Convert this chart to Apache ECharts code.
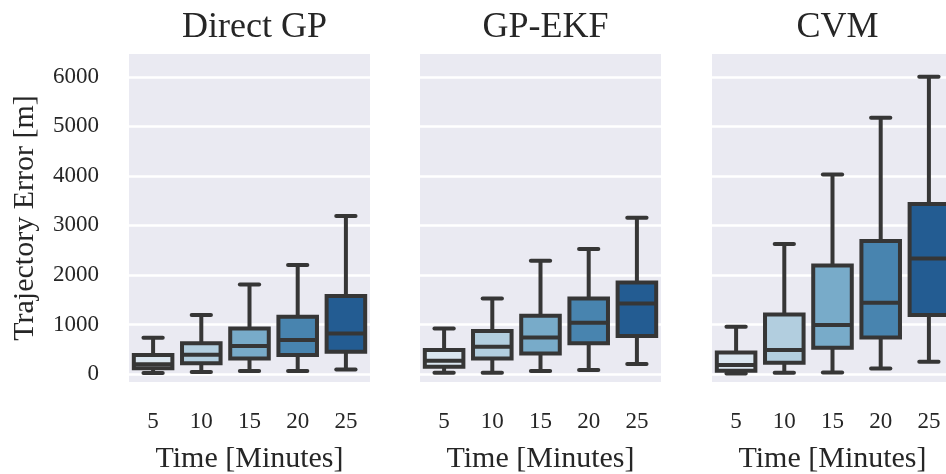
<!DOCTYPE html>
<html>
<head>
<meta charset="utf-8">
<script src="https://cdn.jsdelivr.net/npm/echarts@6/dist/echarts.min.js"></script>
<style>html,body{margin:0;padding:0;background:#fff;}#c{width:946px;height:474px;}</style>
</head>
<body>
<div id="c"></div>
<script>
// ---- data ----
const categories = ['5', '10', '15', '20', '25'];
const panelTitles = ['Direct GP', 'GP-EKF', 'CVM'];
// each row: [lower whisker, Q1, median, Q3, upper whisker]
const directGP = [
  [20, 120, 200, 385, 735],
  [40, 216, 390, 620, 1190],
  [60, 316, 565, 922, 1810],
  [60, 383, 686, 1157, 2200],
  [94, 450, 821, 1574, 3189]
];
const gpEKF = [
  [27, 148, 270, 484, 922],
  [27, 316, 551, 868, 1527],
  [60, 417, 740, 1177, 2287],
  [81, 620, 1036, 1527, 2523],
  [202, 767, 1426, 1850, 3155]
];
const cvm = [
  [14, 67, 182, 437, 955],
  [27, 229, 484, 1204, 2624],
  [34, 531, 989, 2193, 4030],
  [114, 740, 1439, 2684, 5173],
  [249, 1190, 2335, 3431, 6000]
];
const yTicks = [0, 1000, 2000, 3000, 4000, 5000, 6000];
const boxColors = ['#dae6f0', '#b2cedf', '#78abc9', '#4884af', '#235c92'];

// ---- chart ----
const panelData = [directGP, gpEKF, cvm];
const FONT = "'Liberation Serif', 'DejaVu Serif', serif";
const TXT = '#262626';
const EDGE = '#363636';
const LW = 4;
const lefts = [129, 420, 712];
const W = 241, TOP = 54, H = 328;

const grids = [], xAxes = [], yAxes = [], series = [], titles = [];
panelData.forEach((rows, p) => {
  grids.push({left: lefts[p], top: TOP, width: W, height: H, show: true,
    backgroundColor: '#eaeaf2', borderWidth: 0, containLabel: false, outerBoundsMode: 'none'});
  titles.push({text: panelTitles[p], left: lefts[p] + W / 2, top: 5, textAlign: 'center',
    textStyle: {fontFamily: FONT, fontSize: 36, fontWeight: 'normal', color: TXT}});
  xAxes.push({type: 'category', gridIndex: p, data: categories, boundaryGap: true, position: 'bottom',
    axisLine: {show: false, onZero: false}, axisTick: {show: false}, splitLine: {show: false},
    axisLabel: {fontFamily: FONT, fontSize: 23, color: TXT, margin: 28},
    name: 'Time [Minutes]', nameLocation: 'middle', nameGap: 62,
    nameTextStyle: {fontFamily: FONT, fontSize: 30, color: TXT}});
  yAxes.push({type: 'value', gridIndex: p, min: -160, max: 6460,
    axisLine: {show: false}, axisTick: {show: false}, splitLine: {show: false},
    axisLabel: {show: p === 0, customValues: yTicks, formatter: v => String(v),
      fontFamily: FONT, fontSize: 23, color: TXT, margin: 30, padding: [4, 0, 0, 0]},
    name: p === 0 ? 'Trajectory Error [m]' : '', nameLocation: 'middle', nameGap: 89,
    nameTextStyle: {fontFamily: FONT, fontSize: 30, color: TXT}});
  // grid lines
  series.push({type: 'line', xAxisIndex: p, yAxisIndex: p, data: [], z: 0, silent: true,
    markLine: {silent: true, symbol: 'none', z: 1, animation: false,
      label: {show: false},
      lineStyle: {color: '#ffffff', width: 2.5, type: 'solid'},
      emphasis: {disabled: true},
      data: yTicks.map(v => ({yAxis: v}))}});
  // boxes
  series.push({type: 'custom', xAxisIndex: p, yAxisIndex: p, z: 3, silent: true,
    encode: {x: 0, y: [1, 2, 3, 4, 5]},
    data: rows.map((r, i) => [i].concat(r)),
    renderItem: function (params, api) {
      const ci = api.value(0);
      const lo = api.coord([ci, api.value(1)]);
      const q1 = api.coord([ci, api.value(2)]);
      const md = api.coord([ci, api.value(3)]);
      const q3 = api.coord([ci, api.value(4)]);
      const hi = api.coord([ci, api.value(5)]);
      const bw = api.size([1, 0])[0] * 0.8;
      const cx = q1[0];
      const cap = bw / 2;
      const ls = {stroke: EDGE, lineWidth: LW, lineCap: 'round'};
      return {type: 'group', children: [
        {type: 'line', shape: {x1: cx, y1: q3[1], x2: cx, y2: hi[1]}, style: Object.assign({}, ls, {lineCap: 'butt'})},
        {type: 'line', shape: {x1: cx, y1: q1[1], x2: cx, y2: lo[1]}, style: Object.assign({}, ls, {lineCap: 'butt'})},
        {type: 'line', shape: {x1: cx - cap / 2, y1: hi[1], x2: cx + cap / 2, y2: hi[1]}, style: ls},
        {type: 'line', shape: {x1: cx - cap / 2, y1: lo[1], x2: cx + cap / 2, y2: lo[1]}, style: ls},
        {type: 'rect', shape: {x: cx - bw / 2, y: q3[1], width: bw, height: q1[1] - q3[1]},
          style: {fill: boxColors[params.dataIndex], stroke: EDGE, lineWidth: LW, lineJoin: 'miter'}},
        {type: 'line', shape: {x1: cx - bw / 2, y1: md[1], x2: cx + bw / 2, y2: md[1]}, style: Object.assign({}, ls, {lineCap: 'butt'})}
      ]};
    }});
});

const chart = echarts.init(document.getElementById('c'), null, {renderer: 'canvas'});
chart.setOption({
  animation: false,
  backgroundColor: '#ffffff',
  title: titles,
  grid: grids,
  xAxis: xAxes,
  yAxis: yAxes,
  series: series
});
</script>
</body>
</html>
